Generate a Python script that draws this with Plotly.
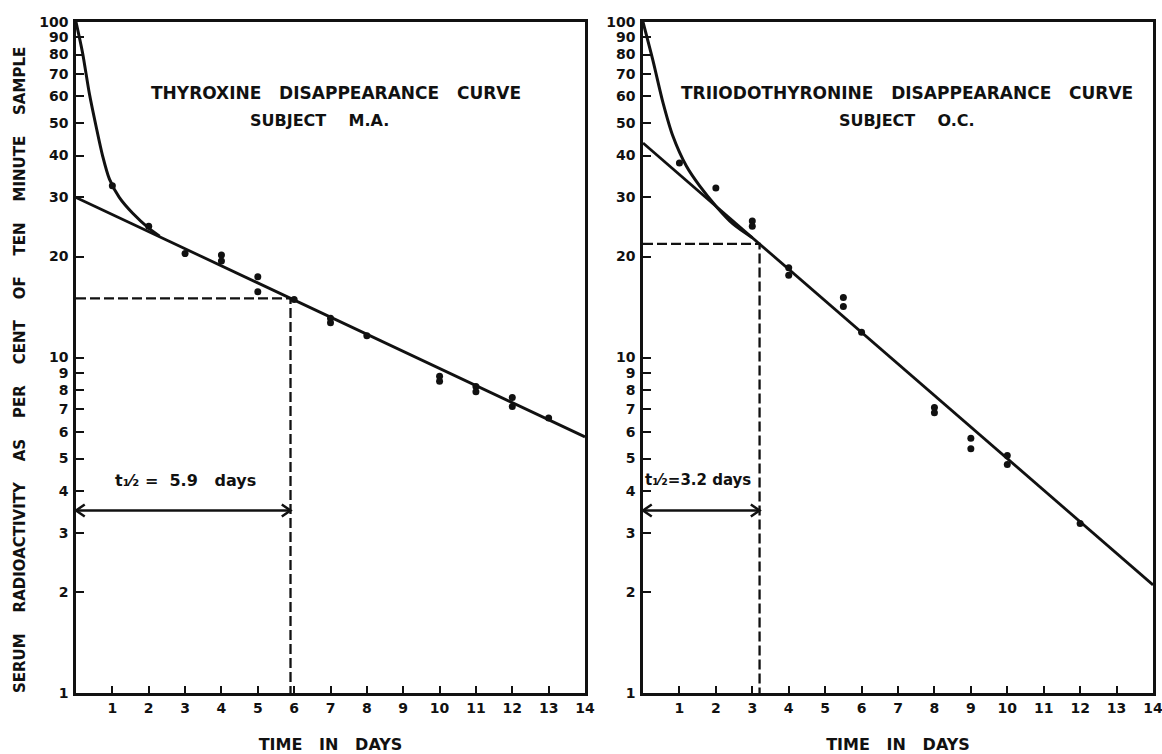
import math
import plotly.graph_objects as go

# ---------------- data ----------------
days_ticks = list(range(1, 15))
y_tick_vals = [1, 2, 3, 4, 5, 6, 7, 8, 9, 10, 20, 30, 40, 50, 60, 70, 80, 90, 100]
y_tick_text = [str(v) for v in y_tick_vals]

# Thyroxine, subject M.A.
t4_days = [1, 2, 3, 4, 4, 5, 5, 6, 7, 7, 8, 10, 10, 11, 11, 12, 12, 13]
t4_values = [32.5, 24.6, 20.4, 20.2, 19.4, 17.4, 15.7, 14.9, 13.1, 12.7, 11.6,
             8.8, 8.5, 8.2, 7.9, 7.6, 7.15, 6.6]
t4_curve_x = [0, 0.18, 0.37, 0.55, 0.73, 0.92, 1.19, 1.56, 2.0, 2.3]
t4_curve_y = [100, 81, 61, 49, 40, 34, 30, 26.9, 24.3, 23.0]
t4_line_x = [0, 14]
t4_line_y = [30, 5.8]
t4_half_life = 5.9
t4_half_level = 15

# Triiodothyronine, subject O.C.
t3_days = [1, 2, 3, 3, 4, 4, 5.5, 5.5, 6, 8, 8, 9, 9, 10, 10, 12]
t3_values = [38, 32, 25.5, 24.6, 18.5, 17.6, 15.1, 14.2, 11.9, 7.1, 6.85,
             5.75, 5.35, 5.1, 4.8, 3.2]
t3_curve_x = [0, 0.27, 0.55, 0.82, 1.19, 1.56, 2.01, 2.47, 3.0]
t3_curve_y = [100, 77, 57.4, 45.7, 37.2, 32.4, 28.2, 25.0, 22.75]
t3_line_x = [0, 14]
t3_line_y = [43.6, 2.1]
t3_half_life = 3.2
t3_half_level = 21.8

arrow_level = 3.5

# ---------------- figure ----------------
FONT = "DejaVu Sans"
BLACK = "#111111"
W, H = 1162, 754

fig = go.Figure()

# arrowhead geometry (style only): arm length in days, half-opening as a ratio on log axis
HEAD_DX = 0.24
HEAD_K = 10 ** (6 / 335.5)


def add_panel(xa, ya, px, py, cx, cy, lx, ly, hl, hlev):
    fig.add_trace(go.Scatter(x=cx, y=cy, mode="lines", xaxis=xa, yaxis=ya,
                             line=dict(color=BLACK, width=3, shape="spline", smoothing=0.8),
                             hoverinfo="skip"))
    fig.add_trace(go.Scatter(x=lx, y=ly, mode="lines", xaxis=xa, yaxis=ya,
                             line=dict(color=BLACK, width=2.8), hoverinfo="skip"))
    fig.add_trace(go.Scatter(x=[0, hl, hl], y=[hlev, hlev, 1], mode="lines", xaxis=xa, yaxis=ya,
                             line=dict(color=BLACK, width=2.3, dash="10px,4px"), hoverinfo="skip"))
    # double-headed arrow spanning the half-life
    a = arrow_level
    ax_ = [0, hl, None,
           HEAD_DX, 0, HEAD_DX, None,
           hl - HEAD_DX, hl, hl - HEAD_DX]
    ay_ = [a, a, None,
           a * HEAD_K, a, a / HEAD_K, None,
           a * HEAD_K, a, a / HEAD_K]
    fig.add_trace(go.Scatter(x=ax_, y=ay_, mode="lines", xaxis=xa, yaxis=ya,
                             line=dict(color=BLACK, width=2.5), hoverinfo="skip"))
    fig.add_trace(go.Scatter(x=px, y=py, mode="markers", xaxis=xa, yaxis=ya,
                             marker=dict(color=BLACK, size=7)))


add_panel("x", "y", t4_days, t4_values, t4_curve_x, t4_curve_y, t4_line_x, t4_line_y,
          t4_half_life, t4_half_level)
add_panel("x2", "y2", t3_days, t3_values, t3_curve_x, t3_curve_y, t3_line_x, t3_line_y,
          t3_half_life, t3_half_level)

tickfont = dict(family=FONT, size=14, color=BLACK, weight="bold")
title_font = dict(family=FONT, size=16, color=BLACK, weight="bold")

sp = "\u00a0\u00a0\u00a0"
sp4 = "\u00a0\u00a0\u00a0\u00a0"
x_title = "TIME" + sp + "IN" + sp + "DAYS"
y_title = sp4.join(["SERUM", "RADIOACTIVITY", "AS", "PER", "CENT", "OF", "TEN", "MINUTE", "SAMPLE"])

xcommon = dict(range=[0, 14], tickvals=days_ticks, ticktext=[str(d) for d in days_ticks],
               ticks="inside", ticklen=7, tickwidth=2, tickcolor=BLACK,
               showline=True, linewidth=2.6, linecolor=BLACK, mirror=True,
               showgrid=False, zeroline=False, tickfont=tickfont, fixedrange=True,
               automargin=False, ticklabeloverflow="allow",
               title=dict(text=x_title, font=title_font, standoff=26))
ycommon = dict(type="log", range=[0, 2], tickvals=y_tick_vals, ticktext=y_tick_text,
               ticks="inside", ticklen=8, tickwidth=2, tickcolor=BLACK,
               showline=True, linewidth=2.6, linecolor=BLACK, mirror=True,
               showgrid=False, zeroline=False, tickfont=tickfont, ticklabelstandoff=2,
               fixedrange=True, automargin=False, ticklabeloverflow="allow")

fig.update_layout(
    width=W, height=H,
    margin=dict(l=0, r=0, t=22, b=61),
    paper_bgcolor="white", plot_bgcolor="white",
    showlegend=False,
    xaxis=dict(domain=[76 / W, 585 / W], anchor="y", **xcommon),
    yaxis=dict(domain=[0, 1], anchor="x", **ycommon),
    xaxis2=dict(domain=[643 / W, 1153 / W], anchor="y2", **xcommon),
    yaxis2=dict(domain=[0, 1], anchor="x2", **ycommon),
)

ann = []


def txt(text, x, y, xref, yref, size=17, **kw):
    d = dict(text=text, x=x, y=y, xref=xref, yref=yref, showarrow=False,
             xanchor="center", yanchor="middle",
             font=dict(family=FONT, size=size, color=BLACK, weight="bold"))
    d.update(kw)
    ann.append(d)


# panel titles
txt("THYROXINE" + sp + "DISAPPEARANCE" + sp + "CURVE", 7.15, math.log10(61.4), "x", "y")
txt("SUBJECT" + sp4 + "M.A.", 6.7, math.log10(51), "x", "y", size=16)
txt("TRIIODOTHYRONINE" + sp + "DISAPPEARANCE" + sp + "CURVE", 7.25, math.log10(61.4), "x2", "y2")
txt("SUBJECT" + sp4 + "O.C.", 7.25, math.log10(51), "x2", "y2", size=16)

# half-life labels (t with a subscript one-half)
half = "t\u2081\u2044\u2082"
txt(half + "\u00a0=\u00a0\u00a05.9\u00a0\u00a0\u00a0days", 3.0, math.log10(4.3), "x", "y", size=16)
txt(half + "=3.2 days", 1.52, math.log10(4.3), "x2", "y2", size=15)

# y-axis title (pixel position converted to paper coordinates)
plot_top, plot_bottom = 22, 693
txt(y_title, 20 / W, (plot_bottom - 370) / (plot_bottom - plot_top), "paper", "paper",
    size=15, textangle=-90)

fig.update_layout(annotations=ann)

fig.write_html("out.html", post_script="document.body.style.margin='0';",
               config={"displayModeBar": False})
